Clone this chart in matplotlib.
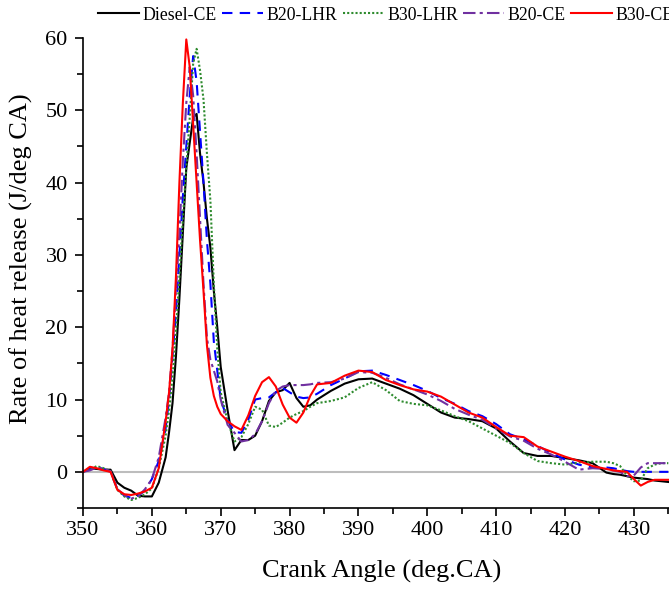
import matplotlib
matplotlib.use('Agg')
import matplotlib.pyplot as plt
from matplotlib.ticker import MultipleLocator

plt.rcParams['font.family'] = ['Liberation Serif', 'DejaVu Serif']

# crank angle grid (deg CA)
ca = [350, 351, 352, 353, 354, 355, 356, 357, 358, 359, 360, 361, 362,
      362.5, 363, 363.5, 364, 364.5, 365, 365.5, 366, 366.5, 367, 367.5, 368,
      368.5, 369, 369.5, 370,
      371, 372, 373, 374, 375, 376, 377, 378, 379, 380, 381, 382, 383, 384,
      386, 388, 390, 392, 394, 396, 398, 400, 402, 404, 406, 408, 410, 412,
      414, 416, 418, 420, 422, 424, 426,
      427, 428, 429, 430, 431, 432, 433, 434, 435]

diesel_ce = [0.0, 0.5, 0.4, 0.3, 0.3, -1.5, -2.2, -2.6, -3.3, -3.4, -3.4, -1.5, 2.0,
             5.5, 9.5, 16, 24, 33, 42, 45.5, 49, 49.5, 44, 40, 35,
             31, 25, 20, 14.5,
             8.5, 3.0, 4.4, 4.4, 5.0, 7.0, 9.8, 11.0, 11.3, 12.3, 10.2, 9.0, 9.2, 10.0,
             11.2, 12.2, 12.8, 12.9, 12.2, 11.5, 10.6, 9.4, 8.2, 7.5, 7.3, 7.0, 6.0, 4.2,
             2.6, 2.2, 2.2, 1.9, 1.6, 1.2, -0.1,
             -0.3, -0.4, -0.6, -0.8, -0.9, -1.0, -1.2, -1.3, -1.4]

b20_lhr = [0.0, 0.4, 0.6, 0.4, 0.0, -2.4, -3.3, -3.6, -3.3, -2.6, -1.0, 1.5, 6.0,
           10, 16, 22, 30, 38, 45, 52, 57.5, 54, 47, 40, 32,
           26, 18, 14, 10,
           7.2, 5.5, 5.4, 7.2, 10.0, 10.2, 10.3, 11.0, 11.6, 11.0, 10.4, 10.2, 10.3, 10.8,
           12.0, 12.9, 13.9, 14.0, 13.4, 12.7, 12.0, 11.2, 10.2, 9.4, 8.4, 7.7, 6.6, 5.2,
           4.5, 3.6, 2.6, 1.7, 1.0, 0.6, 0.6,
           0.5, 0.3, 0.1, 0.0, 0.0, 0.0, 0.0, 0.0, 0.0]

b30_lhr = [0.0, 0.3, 0.8, 0.5, 0.1, -2.5, -3.4, -3.9, -3.6, -3.1, -2.3, 0.5, 5.0,
           8.5, 13, 19.5, 27, 35, 42, 49, 56.5, 58.5, 55.5, 51.5, 44,
           37.5, 26, 17, 11,
           7.0, 4.2, 4.8, 6.6, 9.0, 8.6, 6.4, 6.2, 6.8, 7.5, 8.0, 8.4, 9.0, 9.5,
           9.8, 10.3, 11.6, 12.4, 11.3, 9.8, 9.4, 9.2, 8.5, 7.7, 7.0, 6.0, 5.0, 4.0,
           2.6, 1.5, 1.2, 1.0, 1.3, 1.4, 1.4,
           1.2, 0.8, -0.5, -1.3, -1.2, 0.5, 1.0, 1.2, 1.2]

b20_ce = [0.0, 0.2, 0.6, 0.4, 0.1, -2.4, -3.2, -3.7, -3.4, -2.4, -1.0, 2.0, 7.5,
          11, 17, 25, 33, 43, 51, 56, 52, 44, 35, 26, 18.5,
          15.5, 14, 12.5, 10,
          6.5, 5.4, 4.2, 4.4, 5.2, 7.0, 9.5, 11.2, 11.8, 12.0, 12.0, 12.0, 12.1, 12.3,
          12.4, 12.9, 13.8, 13.7, 13.0, 12.1, 11.4, 10.7, 9.8, 8.7, 7.9, 7.2, 6.0, 4.9,
          4.3, 3.2, 2.4, 1.4, 0.3, 0.5, 0.4,
          0.2, 0.0, -0.6, -0.5, 0.6, 1.2, 1.2, 1.2, 1.2]

b30_ce = [0.0, 0.7, 0.5, 0.2, 0.0, -2.5, -3.1, -3.2, -3.0, -2.7, -2.2, 0.5, 7.0,
          11, 17, 27, 40, 51, 59.8, 56, 48, 40, 32, 25, 17.5,
          13, 10.5, 9, 8,
          7.0, 6.3, 5.8, 7.8, 10.5, 12.4, 13.1, 11.8, 9.3, 7.5, 6.8, 8.2, 10.5, 12.1,
          12.3, 13.3, 14.0, 13.8, 12.7, 12.0, 11.4, 11.1, 10.4, 9.3, 8.2, 7.5, 6.2, 5.0,
          4.8, 3.5, 2.8, 2.1, 1.5, 0.8, 0.4,
          0.2, 0.1, 0.0, -1.0, -1.9, -1.4, -1.1, -1.1, -1.1]

fig = plt.figure(figsize=(6.69, 5.89), dpi=100)
ax = fig.add_axes([83 / 669, 81 / 589, 586 / 669, 470 / 589])

ax.axhline(0, color='#bdbdbd', linewidth=1.5, zorder=1)

lw = 1.5
ax.plot(ca, diesel_ce, color='black', linestyle='-', linewidth=lw, label='Diesel-CE', clip_on=False)
ax.plot(ca, b20_lhr, color='#0000ff', linestyle=(0, (5, 3.5)), linewidth=lw, label='B20-LHR', clip_on=False)
ax.plot(ca, b30_lhr, color='#2e8b2e', linestyle=(0, (1, 1)), linewidth=lw, label='B30-LHR', clip_on=False)
ax.plot(ca, b20_ce, color='#7030a0', linestyle=(0, (6, 2, 1.5, 2)), linewidth=lw, label='B20-CE', clip_on=False)
ax.plot(ca, b30_ce, color='#ff0000', linestyle='-', linewidth=lw, label='B30-CE', clip_on=False)

ax.set_xlim(350, 435.1)
ax.set_ylim(-5, 60)
ax.xaxis.set_major_locator(MultipleLocator(10))
ax.xaxis.set_minor_locator(MultipleLocator(5))
ax.yaxis.set_major_locator(MultipleLocator(10))
ax.yaxis.set_minor_locator(MultipleLocator(5))
ax.tick_params(which='major', direction='out', length=6, width=1.2, labelsize=16, colors='black')
ax.tick_params(which='minor', direction='out', length=4, width=1.2)
ax.tick_params(axis='y', which='major', pad=5)

for side in ['top', 'right']:
    ax.spines[side].set_visible(False)
for side in ['left', 'bottom']:
    ax.spines[side].set_linewidth(1.2)

ax.set_xlabel('Crank Angle (deg.CA)', fontsize=19)
ax.set_ylabel('Rate of heat release (J/deg CA)', fontsize=19)
ax.xaxis.set_label_coords(0.509, -0.11)
ax.yaxis.set_label_coords(-0.085, 0.53)

handles, labels = ax.get_legend_handles_labels()
fig.legend(handles, labels, loc='center left', bbox_to_anchor=(98 / 669, 1 - 15 / 589),
           ncol=5, frameon=False, fontsize=12.8, handlelength=2.3, handletextpad=0.2,
           columnspacing=0.3, borderpad=0, borderaxespad=0)

fig.savefig('out.png', dpi=100)
